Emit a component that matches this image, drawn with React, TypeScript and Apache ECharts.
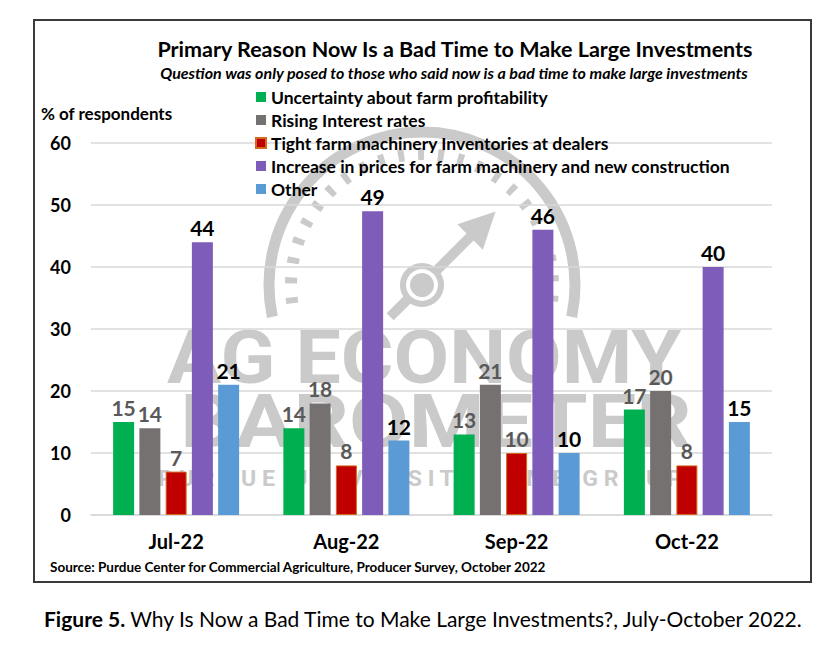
import React, { useEffect, useRef } from "react";
import * as echarts from "echarts";

// Survey months and share of respondents (%) giving each reason
const categories = ["Jul-22", "Aug-22", "Sep-22", "Oct-22"];
const seriesNames = [
  "Uncertainty about farm profitability",
  "Rising Interest rates",
  "Tight farm machinery Inventories at dealers",
  "Increase in prices for farm machinery and new construction",
  "Other",
];
const uncertainty = [15, 14, 13, 17];
const risingRates = [14, 18, 21, 20];
const tightInventories = [7, 8, 10, 8];
const machineryPrices = [44, 49, 46, 40];
const other = [21, 12, 10, 15];

const yTicks = { min: 0, max: 60, interval: 10 };

const FONT = "Lato, 'Open Sans', sans-serif";
const MARK = "#cacaca";
const MARK_FONT = "Roboto, 'Liberation Sans', sans-serif";

// Gauge-style logo drawn faintly behind the plot
function gaugeWatermark() {
  const cx = 422;
  const cy = 285;
  const deg = Math.PI / 180;
  const ux = Math.SQRT1_2;
  const uy = -Math.SQRT1_2;
  const px = (d: number, o = 0) => cx + ux * d - uy * o;
  const py = (d: number, o = 0) => cy + uy * d + ux * o;
  const base = { z: -10, silent: true };
  return [
    {
      type: "arc",
      ...base,
      shape: { cx, cy, r: 153, startAngle: 168 * deg, endAngle: 372 * deg, clockwise: true },
      style: { stroke: MARK, lineWidth: 11, fill: "none" },
    },
    {
      type: "arc",
      ...base,
      shape: { cx, cy, r: 131, startAngle: 172 * deg, endAngle: 368 * deg, clockwise: true },
      style: { stroke: MARK, lineWidth: 12, fill: "none", lineDash: [6, 14] },
    },
    {
      type: "line",
      ...base,
      shape: { x1: px(-45), y1: py(-45), x2: px(75), y2: py(75) },
      style: { stroke: MARK, lineWidth: 10 },
    },
    {
      type: "polygon",
      ...base,
      shape: {
        points: [
          [px(104), py(104)],
          [px(68, -18), py(68, -18)],
          [px(68, 18), py(68, 18)],
        ],
      },
      style: { fill: MARK },
    },
    { type: "circle", ...base, shape: { cx, cy, r: 22 }, style: { fill: MARK } },
    { type: "circle", ...base, shape: { cx, cy, r: 16 }, style: { fill: "#ffffff" } },
    { type: "circle", ...base, shape: { cx, cy, r: 12 }, style: { fill: MARK } },
    {
      type: "text",
      ...base,
      x: 424,
      y: 358,
      scaleX: 1.09,
      style: {
        text: "AG ECONOMY",
        font: `bold 74px ${MARK_FONT}`,
        fill: MARK,
        align: "center",
        verticalAlign: "middle",
      },
    },
    {
      type: "text",
      ...base,
      x: 436,
      y: 422,
      scaleX: 1.17,
      style: {
        text: "BAROMETER",
        font: `bold 74px ${MARK_FONT}`,
        fill: MARK,
        align: "center",
        verticalAlign: "middle",
      },
    },
    {
      type: "text",
      ...base,
      x: 420,
      y: 479,
      scaleX: 1.05,
      style: {
        text: "P U R D U E   U N I V E R S I T Y  -  C M E   G R O U P",
        font: `bold 22px ${MARK_FONT}`,
        fill: MARK,
        align: "center",
        verticalAlign: "middle",
      },
    },
  ];
}

function barSeries(name: string, data: number[], color: string, labelColor: string, border?: string) {
  return {
    name,
    type: "bar",
    data,
    barWidth: 21,
    barGap: "25%",
    itemStyle: border ? { color, borderColor: border, borderWidth: 1 } : { color },
    label: {
      show: true,
      position: "top",
      distance: 4,
      fontFamily: FONT,
      fontSize: 21,
      fontWeight: "bold",
      color: labelColor,
    },
  };
}

export default function App() {
  const ref = useRef<HTMLDivElement>(null);

  useEffect(() => {
    if (!ref.current) return;
    const chart = echarts.init(ref.current, undefined, { renderer: "svg" });
    chart.setOption({
      animation: false,
      backgroundColor: "#ffffff",
      textStyle: { fontFamily: FONT },
      grid: { left: 91, right: 68, top: 143, bottom: 130 },
      legend: {
        data: seriesNames,
        orient: "vertical",
        left: 255,
        top: 88,
        padding: 0,
        icon: "rect",
        itemWidth: 10,
        itemHeight: 10,
        itemGap: 5,
        selectedMode: false,
        textStyle: { fontFamily: FONT, fontSize: 17.5, fontWeight: "bold", color: "#000", lineHeight: 17 },
      },
      xAxis: {
        type: "category",
        data: categories,
        axisLine: { lineStyle: { color: "#d9d9d9", width: 1.5 } },
        axisTick: { show: false },
        axisLabel: { fontFamily: FONT, fontSize: 20, fontWeight: "bold", color: "#000", margin: 16 },
      },
      yAxis: {
        type: "value",
        min: yTicks.min,
        max: yTicks.max,
        interval: yTicks.interval,
        axisLabel: { fontFamily: FONT, fontSize: 18, fontWeight: "bold", color: "#000", margin: 20 },
        splitLine: { lineStyle: { color: "#d9d9d9", width: 1.5 } },
      },
      series: [
        barSeries(seriesNames[0], uncertainty, "#00b050", "#595959"),
        barSeries(seriesNames[1], risingRates, "#767171", "#595959"),
        barSeries(seriesNames[2], tightInventories, "#c00000", "#595959", "#d2691e"),
        barSeries(seriesNames[3], machineryPrices, "#7e5cb9", "#000000"),
        barSeries(seriesNames[4], other, "#5b9bd5", "#000000"),
      ],
      graphic: [
        ...gaugeWatermark(),
        {
          type: "rect",
          z: -20,
          silent: true,
          shape: { x: 34, y: 20, width: 777, height: 562 },
          style: { fill: "none", stroke: "#3a3a3a", lineWidth: 2 },
        },
        {
          type: "text",
          x: 455,
          y: 49,
          style: {
            text: "Primary Reason Now Is a Bad Time to Make Large Investments",
            font: `bold 21.5px ${FONT}`,
            fill: "#000",
            align: "center",
            verticalAlign: "middle",
          },
        },
        {
          type: "text",
          x: 454,
          y: 72,
          style: {
            text: "Question was only posed to those who said now is a bad time to make large investments",
            font: `italic bold 16px ${FONT}`,
            fill: "#000",
            align: "center",
            verticalAlign: "middle",
          },
        },
        {
          type: "text",
          x: 41,
          y: 113,
          style: {
            text: "% of respondents",
            font: `bold 17px ${FONT}`,
            fill: "#000",
            align: "left",
            verticalAlign: "middle",
          },
        },
        {
          type: "text",
          x: 50,
          y: 567,
          style: {
            text: "Source: Purdue Center for Commercial Agriculture, Producer Survey, October 2022",
            font: `bold 13.5px ${FONT}`,
            fill: "#000",
            align: "left",
            verticalAlign: "middle",
          },
        },
        {
          type: "text",
          x: 44,
          y: 618,
          style: {
            text: "{b|Figure 5.} Why Is Now a Bad Time to Make Large Investments?, July-October 2022.",
            font: `21px ${FONT}`,
            fill: "#000",
            align: "left",
            verticalAlign: "middle",
            rich: { b: { fontFamily: FONT, fontSize: 21, fontWeight: "bold", fill: "#000" } },
          },
        },
      ],
    });
    return () => chart.dispose();
  }, []);

  return (
    <div
      ref={ref}
      style={{ position: "absolute", left: 0, top: 0, width: 840, height: 645, background: "#fff" }}
    />
  );
}
